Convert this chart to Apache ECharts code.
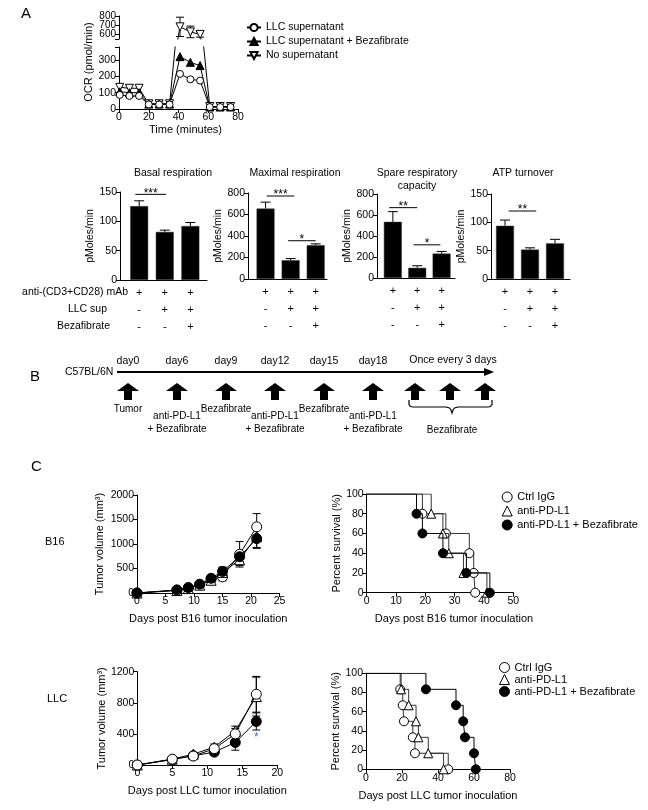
<!DOCTYPE html>
<html><head><meta charset="utf-8">
<script src="https://cdn.jsdelivr.net/npm/echarts@6/dist/echarts.min.js"></script>
<style>html,body{margin:0;padding:0;background:#fff}#c{width:648px;height:810px}</style>
</head><body><div id="c"></div>
<script>
// ---------------- DATA ----------------
// Panel A - OCR time course
const ocrTime = [0.5, 7, 13.5, 20, 27, 34, 41, 48, 54.5, 61, 68, 75];
const ocrLLC = [86, 80, 80, 28, 28, 28, 215, 182, 174, 12, 12, 12];
const ocrLLCBeza = [106, 100, 100, 30, 30, 30, 321, 286, 266, 12, 12, 12];
const ocrNoSup = [133, 127, 127, 32, 32, 32, 682, 627, 600, 15, 15, 15];
const ocrNoSupErr = [0, 0, 0, 0, 0, 0, 105, 63, 30, 0, 0, 0];
const ocrNames = ['LLC supernatant', 'LLC supernatant + Bezafibrate', 'No supernatant'];
const ocrLowTicks = [0, 100, 200, 300];
const ocrHighTicks = [600, 700, 800];

// Panel A - bar charts
const barTitles = ['Basal respiration', 'Maximal respiration', 'Spare respiratory\ncapacity', 'ATP turnover'];
const basalMean = [126, 82, 92], basalErr = [9, 3, 6];
const maximalMean = [655, 175, 315], maximalErr = [60, 15, 12];
const spareMean = [535, 97, 233], spareErr = [97, 20, 20];
const atpMean = [94, 52, 63], atpErr = [10, 3, 7];
const basalSig = [[-0.15, 1.05, 146, '***']];
const maximalSig = [[0.05, 1.15, 772, '***'], [0.9, 2.0, 356, '*']];
const spareSig = [[-0.15, 1.0, 670, '**'], [0.85, 1.95, 316, '*']];
const atpSig = [[0.15, 1.25, 120, '**']];
const rowMAb = ['+', '+', '+'];
const rowLLC = ['-', '+', '+'];
const rowBeza = ['-', '-', '+'];
const rowLabels = ['anti-(CD3+CD28) mAb', 'LLC sup', 'Bezafibrate'];

// Panel B - timeline
const tlDays = ['day0', 'day6', 'day9', 'day12', 'day15', 'day18'];
const tlEvents = ['Tumor', 'anti-PD-L1\n+ Bezafibrate', 'Bezafibrate', 'anti-PD-L1\n+ Bezafibrate', 'Bezafibrate', 'anti-PD-L1\n+ Bezafibrate'];
const tlRepeat = ['r1', 'r2', 'r3'];
const tlRepeatTitle = 'Once every 3 days';
const tlRepeatLabel = 'Bezafibrate';
const tlStrain = 'C57BL/6N';

// Panel C
const groupNames = ['Ctrl IgG', 'anti-PD-L1', 'anti-PD-L1 + Bezafibrate'];
const b16Days = [0, 7, 9, 11, 13, 15, 18, 21];
const b16Ctrl = [0, 60, 100, 170, 280, 330, 790, 1350];
const b16CtrlErr = [0, 15, 20, 30, 60, 80, 260, 270];
const b16Anti = [0, 50, 90, 160, 260, 420, 680, 1150];
const b16AntiErr = [0, 10, 20, 25, 50, 100, 120, 220];
const b16Combo = [0, 60, 110, 180, 300, 440, 740, 1110];
const b16ComboErr = [0, 15, 20, 30, 60, 90, 100, 200];
const b16SurvCtrl = [[19, 80], [27, 60], [35, 40], [36.5, 20], [37, 0]];
const b16SurvAnti = [[22, 80], [26, 60], [28, 40], [33, 20], [41, 0]];
const b16SurvCombo = [[17, 80], [19, 60], [26, 40], [34, 20], [42, 0]];

const llcDays = [0, 5, 8, 11, 14, 17];
const llcCtrl = [0, 75, 115, 210, 400, 910];
const llcCtrlErr = [0, 10, 20, 30, 70, 230];
const llcAnti = [0, 75, 140, 230, 440, 880];
const llcAntiErr = [0, 10, 20, 40, 60, 250];
const llcCombo = [0, 70, 120, 165, 290, 560];
const llcComboErr = [0, 10, 15, 25, 100, 110];
const llcStar = [[17, 356]];
const llcSurvCtrl = [[19, 83.3], [20.4, 66.7], [21.1, 50], [26, 33.3], [27.2, 16.7], [45.7, 0]];
const llcSurvAnti = [[19.5, 83.3], [23.7, 66.7], [27.8, 50], [29.1, 33.3], [34.6, 16.7], [43.1, 0]];
const llcSurvCombo = [[33.3, 83.3], [50, 66.7], [54, 50], [55, 33.3], [60, 16.7], [61, 0]];

// ---------------- BUILD ----------------
const FONT = "'Liberation Sans', Arial, Helvetica, sans-serif";
const BLACK = '#000';
function merge(a, b) {
  for (const k in b) {
    if (b[k] && typeof b[k] === 'object' && !Array.isArray(b[k]) && a[k] && typeof a[k] === 'object' && !Array.isArray(a[k])) merge(a[k], b[k]);
    else a[k] = b[k];
  }
  return a;
}
const grids = [], xAxes = [], yAxes = [], series = [], graphics = [], legends = [];
function addGrid(left, top, width, height) {
  grids.push({left, top, width, height, containLabel: false, outerBoundsMode: 'none'});
  return grids.length - 1;
}
function axis(gi, type, o) {
  return merge({
    type, gridIndex: gi,
    axisLine: {show: true, onZero: false, lineStyle: {color: BLACK, width: 1}},
    axisTick: {show: true, length: 4, lineStyle: {color: BLACK, width: 1}},
    splitLine: {show: false},
    axisLabel: {color: BLACK, fontSize: 10.5, margin: 3, fontFamily: FONT, formatter: v => String(v),
      showMinLabel: true, showMaxLabel: true, hideOverlap: false},
    nameTextStyle: {color: BLACK, fontSize: 11, fontFamily: FONT}
  }, o || {});
}
function addX(o) { xAxes.push(o); return xAxes.length - 1; }
function addY(o) { yAxes.push(o); return yAxes.length - 1; }
function txt(x, y, text, o) {
  o = o || {};
  const el = {type: 'text', x, y, silent: true, style: {text, fill: BLACK, fontSize: o.fontSize || 10.5, fontFamily: FONT,
    align: o.align || 'left', textAlign: o.align || 'left', verticalAlign: 'middle', textVerticalAlign: 'middle',
    fontWeight: o.fontWeight || 'normal'}};
  if (o.rotation) el.rotation = o.rotation;
  return el;
}
function errRender(capHalf, both) {
  return function (params, api) {
    const x = api.value(0), y = api.value(1), e = api.value(2);
    if (!(e > 0)) return null;
    const t = api.coord([x, y + e]), m = api.coord([x, y]), b = api.coord([x, y - e]);
    const st = {stroke: BLACK, lineWidth: 1};
    const ch = [
      {type: 'line', shape: {x1: t[0], y1: t[1], x2: t[0], y2: (both ? b : m)[1]}, style: st},
      {type: 'line', shape: {x1: t[0] - capHalf, y1: t[1], x2: t[0] + capHalf, y2: t[1]}, style: st}
    ];
    if (both) ch.push({type: 'line', shape: {x1: b[0] - capHalf, y1: b[1], x2: b[0] + capHalf, y2: b[1]}, style: st});
    return {type: 'group', children: ch};
  };
}
function errSeries(xi, yi, xs, ys, es, capHalf, both, clip) {
  series.push({type: 'custom', xAxisIndex: xi, yAxisIndex: yi, clip: !!clip, z: 1, silent: true,
    data: xs.map((x, i) => [x, ys[i], es[i]]), renderItem: errRender(capHalf, both)});
}
const emptyStyle = {color: '#fff', borderColor: BLACK, borderWidth: 1, opacity: 1};
const fillStyle = {color: BLACK, borderColor: BLACK, borderWidth: 1, opacity: 1};

// ===== Panel A: OCR =====
const gLow = addGrid(119, 47, 119, 62);
const gHigh = addGrid(119, 16, 119, 23);
const xLow = addX(axis(gLow, 'value', {min: 0, max: 80, interval: 20, name: 'Time (minutes)', nameLocation: 'middle', nameGap: 15,
  nameTextStyle: {padding: [0, 0, 0, 14]}}));
const yLow = addY(axis(gLow, 'value', {position: 'left', min: 0, max: 380, interval: 100,
  axisTick: {customValues: ocrLowTicks.concat([380])},
  axisLabel: {customValues: ocrLowTicks, formatter: v => (v % 100 === 0 ? String(v) : '')}}));
const xHigh = addX(axis(gHigh, 'value', {min: 0, max: 80, show: false}));
// upper segment: two overlaid left axes so the tightly packed labels are not culled
const yHigh = addY(axis(gHigh, 'value', {position: 'left', offset: 0, min: 550, max: 800, interval: 50,
  axisTick: {customValues: [550].concat(ocrHighTicks)},
  axisLabel: {customValues: [ocrHighTicks[0], ocrHighTicks[2]], fontSize: 10,
    formatter: v => (v === ocrHighTicks[0] || v === ocrHighTicks[2] ? String(v) : '')}}));
addY(axis(gHigh, 'value', {position: 'left', offset: 0, min: 550, max: 800, interval: 50, axisLine: {show: false}, axisTick: {show: false},
  axisLabel: {customValues: [ocrHighTicks[1]], fontSize: 10, showMinLabel: false, showMaxLabel: false,
    formatter: v => (v === ocrHighTicks[1] ? String(v) : '')}}));
const ocrDefs = [
  {name: ocrNames[2], vals: ocrNoSup, symbol: 'triangle', rot: 180, size: 8, style: emptyStyle},
  {name: ocrNames[1], vals: ocrLLCBeza, symbol: 'triangle', rot: 0, size: 8, style: fillStyle},
  {name: ocrNames[0], vals: ocrLLC, symbol: 'circle', rot: 0, size: 7, style: emptyStyle}
];
[[xLow, yLow], [xHigh, yHigh]].forEach(([xi, yi]) => {
  ocrDefs.forEach(d => {
    series.push({type: 'line', name: d.name, xAxisIndex: xi, yAxisIndex: yi, clip: true, z: 3,
      data: ocrTime.map((t, i) => [t, d.vals[i]]), symbol: d.symbol, symbolRotate: d.rot, symbolSize: d.size,
      showAllSymbol: true, lineStyle: {color: BLACK, width: 1}, itemStyle: d.style, emphasis: {disabled: true}});
  });
});
errSeries(xHigh, yHigh, ocrTime, ocrNoSup, ocrNoSupErr, 4, true, true);
legends.push({show: true, left: 241, top: 17, orient: 'vertical', itemGap: 3, itemWidth: 14, itemHeight: 9,
  selectedMode: false, data: ocrNames, textStyle: {color: BLACK, fontSize: 10.5, fontFamily: FONT}});
graphics.push(txt(21, 14, 'A', {fontSize: 15}));
graphics.push(txt(89, 62, 'OCR (pmol/min)', {align: 'center', rotation: Math.PI / 2, fontSize: 11}));

// ===== Panel A: bar charts =====
const barPanels = [
  {mean: basalMean, err: basalErr, sig: basalSig, max: 150, interval: 50, grid: [120, 192, 87, 88], xr: [-0.75, 2.65], title: [173, 173]},
  {mean: maximalMean, err: maximalErr, sig: maximalSig, max: 800, interval: 200, grid: [248, 193, 79, 86], xr: [-0.7, 2.45], title: [295, 173]},
  {mean: spareMean, err: spareErr, sig: spareSig, max: 800, interval: 200, grid: [377, 194, 78, 84], xr: [-0.65, 2.55], title: [417, 173]},
  {mean: atpMean, err: atpErr, sig: atpSig, max: 150, interval: 50, grid: [491, 194, 79, 85], xr: [-0.56, 2.6], title: [523, 173]}
];
const treatLabel = i => [rowMAb[i], rowLLC[i], rowBeza[i]].join('\n');
barPanels.forEach((p, k) => {
  const g = addGrid(p.grid[0], p.grid[1], p.grid[2], p.grid[3]);
  const xi = addX(axis(g, 'value', {min: p.xr[0], max: p.xr[1], axisTick: {show: false},
    axisLabel: {customValues: [0, 1, 2], fontSize: 11, lineHeight: 17, margin: 4,
      formatter: v => (Math.abs(v - Math.round(v)) < 1e-6 && v >= 0 && v <= 2 ? treatLabel(Math.round(v)) : '')}}));
  const yi = addY(axis(g, 'value', {min: 0, max: p.max, interval: p.interval, name: 'pMoles/min', nameLocation: 'middle', nameGap: 21,
    nameTextStyle: {fontSize: 10.5}}));
  series.push({type: 'bar', xAxisIndex: xi, yAxisIndex: yi, barWidth: 18, z: 2, silent: true,
    data: p.mean.map((v, i) => [i, v]), itemStyle: {color: BLACK, borderColor: '#444', borderWidth: 0.5}});
  errSeries(xi, yi, [0, 1, 2], p.mean, p.err, 5, false, false);
  const sig = p.sig;
  series.push({type: 'custom', xAxisIndex: xi, yAxisIndex: yi, silent: true, z: 4,
    data: sig.map(s => [s[0], s[2]]),
    renderItem: (params, api) => {
      const s = sig[params.dataIndex];
      const a = api.coord([s[0], s[2]]), b = api.coord([s[1], s[2]]);
      return {type: 'group', children: [
        {type: 'line', shape: {x1: a[0], y1: a[1], x2: b[0], y2: b[1]}, style: {stroke: BLACK, lineWidth: 1}},
        {type: 'text', x: (a[0] + b[0]) / 2, y: a[1] - 1, style: {text: s[3], fill: BLACK, fontSize: 12, fontFamily: FONT,
          align: 'center', textAlign: 'center', verticalAlign: 'middle', textVerticalAlign: 'middle'}}
      ]};
    }});
  const lines = barTitles[k].split('\n');
  lines.forEach((ln, j) => graphics.push(txt(p.title[0], p.title[1] + j * 13, ln, {align: 'center', fontSize: 10.5})));
});
graphics.push(txt(128, 292, rowLabels[0], {align: 'right'}));
graphics.push(txt(107, 309, rowLabels[1], {align: 'right'}));
graphics.push(txt(110, 326, rowLabels[2], {align: 'right'}));

// ===== Panel B: timeline =====
const arrowPath = 'path://M11,0 L22,8 L15,8 L15,17 L7,17 L7,8 L0,8 Z';
const gT1 = addGrid(103.5, 372, 294, 39);
const xT1 = addX({type: 'category', gridIndex: gT1, position: 'top', data: tlDays,
  axisLine: {show: false}, axisTick: {show: false}, splitLine: {show: false},
  axisLabel: {color: BLACK, fontSize: 10.5, margin: 5, fontFamily: FONT}});
const yT1 = addY({type: 'value', gridIndex: gT1, min: 0, max: 1, show: false});
series.push({type: 'scatter', xAxisIndex: xT1, yAxisIndex: yT1, symbol: arrowPath, symbolSize: [22, 17], silent: true,
  itemStyle: {color: BLACK, opacity: 1},
  label: {show: true, position: 'bottom', color: BLACK, fontSize: 10, lineHeight: 13, fontFamily: FONT,
    formatter: p => tlEvents[p.dataIndex]},
  data: tlEvents.map((t, i) => ({value: [i, 0.5], label: {distance: t.indexOf('\n') >= 0 ? 10 : 3}}))});
const gT2 = addGrid(397.5, 372, 105, 39);
const xT2 = addX({type: 'category', gridIndex: gT2, data: tlRepeat, show: false});
const yT2 = addY({type: 'value', gridIndex: gT2, min: 0, max: 1, show: false});
series.push({type: 'scatter', xAxisIndex: xT2, yAxisIndex: yT2, symbol: arrowPath, symbolSize: [22, 17], silent: true,
  itemStyle: {color: BLACK, opacity: 1}, data: tlRepeat.map((r, i) => [i, 0.5])});
graphics.push(txt(30, 377, 'B', {fontSize: 15}));
graphics.push(txt(65, 372, tlStrain, {fontSize: 10.5}));
graphics.push({type: 'line', silent: true, shape: {x1: 117, y1: 372, x2: 488, y2: 372}, style: {stroke: BLACK, lineWidth: 1.8}});
graphics.push({type: 'polygon', silent: true, shape: {points: [[484, 368], [494, 372], [484, 376]]}, style: {fill: BLACK}});
graphics.push(txt(453, 360, tlRepeatTitle, {align: 'center', fontSize: 10.5}));
graphics.push({type: 'polyline', silent: true,
  shape: {points: [[409, 400], [409, 404.5], [410.5, 406.5], [413, 407], [446, 407], [449.5, 408], [451, 410], [452, 413], [453, 410], [454.5, 408], [458, 407], [488, 407], [490.5, 406.5], [492, 404.5], [492, 400]]},
  style: {stroke: BLACK, fill: null, lineWidth: 1.2}});
graphics.push(txt(452, 430, tlRepeatLabel, {align: 'center', fontSize: 10}));

// ===== Panel C =====
graphics.push(txt(31, 467, 'C', {fontSize: 15}));
graphics.push(txt(45, 542, 'B16', {fontSize: 11}));
graphics.push(txt(47, 699, 'LLC', {fontSize: 11}));
const groupStyle = [
  {symbol: 'circle', style: emptyStyle},
  {symbol: 'triangle', style: emptyStyle},
  {symbol: 'circle', style: fillStyle}
];
function volChart(grid, xr, yr, days, vals, errs, order, xname) {
  const g = addGrid(grid[0], grid[1], grid[2], grid[3]);
  const xi = addX(axis(g, 'value', {min: 0, max: xr[0], interval: xr[1], name: xname, nameLocation: 'middle', nameGap: 20}));
  const yi = addY(axis(g, 'value', {min: 0, max: yr[0], interval: yr[1], name: 'Tumor volume (mm\u00B3)', nameLocation: 'middle', nameGap: yr[2]}));
  order.forEach(k => {
    errSeries(xi, yi, days, vals[k], errs[k], 4, true, false);
  });
  order.forEach((k, j) => {
    series.push({type: 'line', name: groupNames[k], xAxisIndex: xi, yAxisIndex: yi, z: 3 + j,
      data: days.map((d, i) => [d, vals[k][i]]), symbol: groupStyle[k].symbol, symbolSize: 10, showAllSymbol: true,
      lineStyle: {color: BLACK, width: 1}, itemStyle: groupStyle[k].style, emphasis: {disabled: true}});
  });
  return [xi, yi];
}
function survChart(grid, xr, events, xname, namePad, legendPos) {
  const g = addGrid(grid[0], grid[1], grid[2], grid[3]);
  const xi = addX(axis(g, 'value', {min: 0, max: xr[0], interval: xr[1], name: xname, nameLocation: 'middle', nameGap: 21,
    nameTextStyle: {padding: [0, 0, 0, namePad]}}));
  const yi = addY(axis(g, 'value', {min: 0, max: 100, interval: 20, name: 'Percent survival (%)', nameLocation: 'middle', nameGap: 21}));
  [0, 1, 2].forEach(k => {
    series.push({type: 'line', name: groupNames[k], xAxisIndex: xi, yAxisIndex: yi, step: 'end', z: 3 + k,
      data: [{value: [0, 100], symbol: 'none'}].concat(events[k].map(e => ({value: e}))),
      symbol: groupStyle[k].symbol, symbolSize: 9, showAllSymbol: true,
      lineStyle: {color: k === 2 ? BLACK : '#333', width: 1}, itemStyle: groupStyle[k].style, emphasis: {disabled: true}});
  });
  legends.push({show: true, left: legendPos[0], top: legendPos[1], orient: 'vertical', itemGap: legendPos[2], itemWidth: 10, itemHeight: 10,
    selectedMode: false, textStyle: {color: BLACK, fontSize: 11, fontFamily: FONT},
    data: groupNames.map((n, k) => ({name: n, icon: groupStyle[k].symbol, itemStyle: groupStyle[k].style}))});
}
volChart([137, 495, 142.5, 98], [25, 5], [2000, 500, 32], b16Days,
  [b16Ctrl, b16Anti, b16Combo], [b16CtrlErr, b16AntiErr, b16ComboErr], [0, 1, 2], 'Days post B16 tumor inoculation');
survChart([366.7, 494, 146.6, 98.7], [50, 10], [b16SurvCtrl, b16SurvAnti, b16SurvCombo], 'Days post B16 tumor inoculation', 28, [496.7, 486.5, 3]);
const llcAx = volChart([137.3, 671.7, 140, 93.3], [20, 5], [1200, 400, 26], llcDays,
  [llcCtrl, llcAnti, llcCombo], [llcCtrlErr, llcAntiErr, llcComboErr], [1, 2, 0], 'Days post LLC tumor inoculation');
series.push({type: 'scatter', xAxisIndex: llcAx[0], yAxisIndex: llcAx[1], symbolSize: 0, silent: true, z: 10,
  data: llcStar, label: {show: true, position: 'inside', formatter: '*', color: '#2b46a8', fontSize: 12, fontFamily: FONT}});
survChart([366, 673.3, 144, 96], [80, 20], [llcSurvCtrl, llcSurvAnti, llcSurvCombo], 'Days post LLC tumor inoculation', 0, [494, 657, 1]);

const chart = echarts.init(document.getElementById('c'), null, {renderer: 'canvas', width: 648, height: 810});
chart.setOption({
  animation: false,
  backgroundColor: '#fff',
  textStyle: {fontFamily: FONT, color: BLACK},
  grid: grids, xAxis: xAxes, yAxis: yAxes, series: series, legend: legends,
  graphic: {elements: graphics}
});
</script>
</body></html>
